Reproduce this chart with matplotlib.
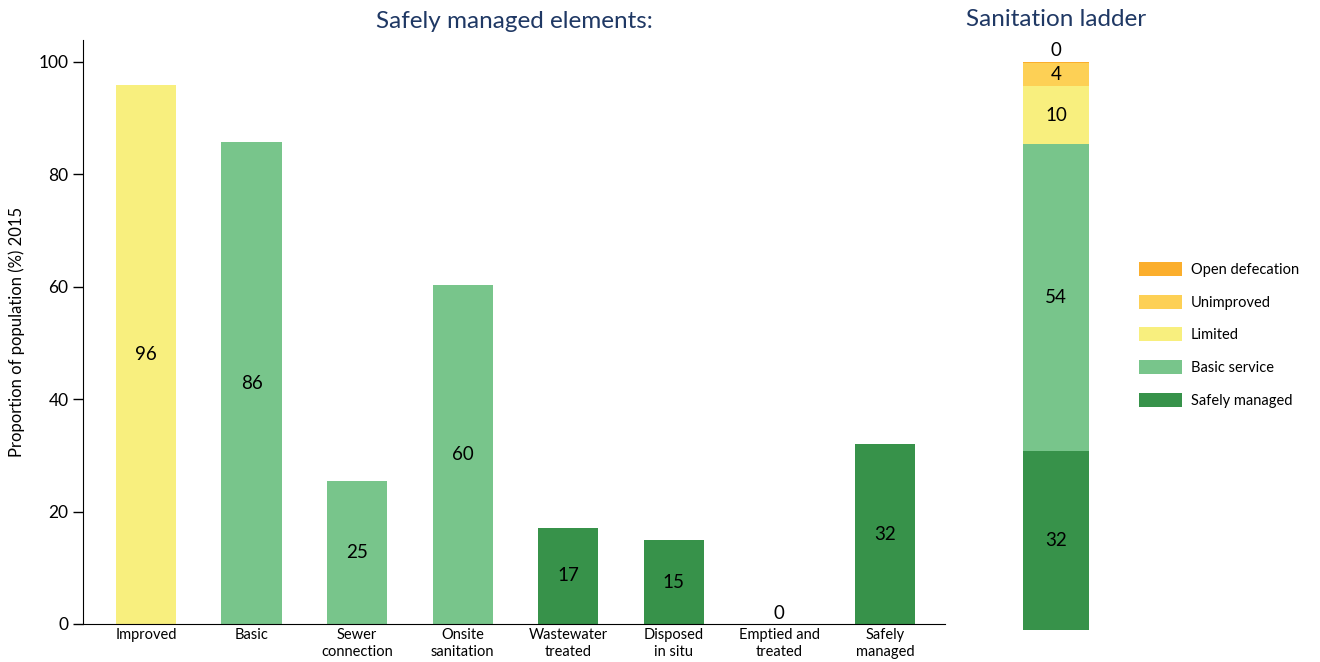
import matplotlib.pyplot as plt
from matplotlib.patches import Patch

plt.rcParams["font.family"] = ["Lato", "DejaVu Sans"]

# Left panel: safely managed elements
categories = ["Improved", "Basic", "Sewer\nconnection", "Onsite\nsanitation",
              "Wastewater\ntreated", "Disposed\nin situ", "Emptied and\ntreated", "Safely\nmanaged"]
values = [95.9, 85.7, 25.4, 60.3, 17.1, 14.9, 0, 32.0]
labels = ["96", "86", "25", "60", "17", "15", "0", "32"]

# Right panel: sanitation ladder (bottom to top)
ladder_names = ["Safely managed", "Basic service", "Limited", "Unimproved", "Open defecation"]
ladder_values = [31.5, 54.0, 10.3, 4.0, 0.3]
ladder_labels = ["32", "54", "10", "4", "0"]

YELLOW = "#F8EF7E"
LGREEN = "#78C58B"
DGREEN = "#37924A"
UNIMP = "#FDD055"
OPEN = "#FBAE2C"
TITLE = "#1F3864"

bar_colors = [YELLOW, LGREEN, LGREEN, LGREEN, DGREEN, DGREEN, DGREEN, DGREEN]
ladder_colors = [DGREEN, LGREEN, YELLOW, UNIMP, OPEN]

fig = plt.figure(figsize=(13.2, 6.62), dpi=100)
W, H = 1320, 662

ax = fig.add_axes([83 / W, 1 - 624 / H, (945 - 83) / W, (624 - 40) / H])
x = list(range(len(categories)))
ax.bar(x, values, width=0.57, color=bar_colors)
for xi, v, lab in zip(x, values, labels):
    y = v / 2 if v > 0 else 0.3
    va = "center" if v > 0 else "bottom"
    ax.text(xi, y, lab, ha="center", va=va, fontsize=13.5, color="black")
ax.set_xlim(-0.597, 7.57)
ax.set_ylim(0, 103.9)
ax.set_yticks([0, 20, 40, 60, 80, 100])
ax.tick_params(axis="y", labelsize=12.5, length=7, width=1, direction="out")
ax.set_xticks(x)
ax.set_xticklabels(categories, fontsize=10.5, linespacing=1.25)
ax.tick_params(axis="x", length=0, pad=3)
ax.spines["top"].set_visible(False)
ax.spines["right"].set_visible(False)
ax.set_ylabel("Proportion of population (%) 2015", fontsize=12, labelpad=10)
ax.set_title("Safely managed elements:", fontsize=17.5, color=TITLE, pad=9)

# Right panel: stacked bar
ax2 = fig.add_axes([1000 / W, 1 - 630 / H, 112 / W, 568 / H])
bottom = 0
handles = []
for name, v, lab, c in zip(ladder_names, ladder_values, ladder_labels, ladder_colors):
    ax2.bar(0, v, bottom=bottom, width=66 / 112, color=c)
    if v >= 2:
        ax2.text(0, bottom + v / 2, lab, ha="center", va="center", fontsize=13.5)
    else:
        ax2.text(0, bottom + v + 0.4, lab, ha="center", va="bottom", fontsize=13.5)
    bottom += v
    handles.append(Patch(facecolor=c, label=name))
ax2.set_xlim(-0.5, 0.5)
ax2.set_ylim(0, 100)
ax2.axis("off")
fig.text(1056 / W, 1 - 20 / H, "Sanitation ladder", ha="center", va="center",
         fontsize=17.5, color=TITLE)

fig.legend(handles=handles[::-1], loc="upper left", bbox_to_anchor=(1139 / W, 1 - 262 / H),
           frameon=False, fontsize=10.5, handlelength=2.95, handleheight=1.1,
           labelspacing=1.22, handletextpad=0.6, borderpad=0, borderaxespad=0)

fig.savefig("out.png", dpi=100)
